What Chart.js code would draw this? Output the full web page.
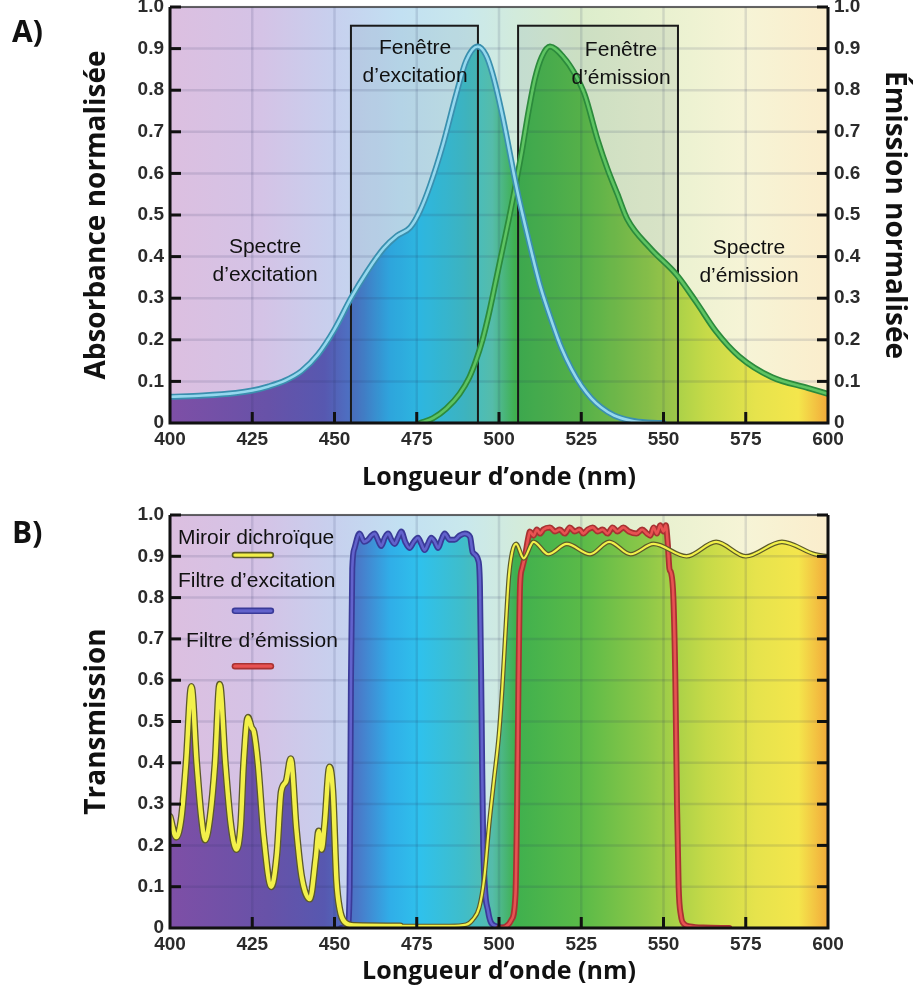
<!DOCTYPE html>
<html lang="fr">
<head>
<meta charset="utf-8">
<title>Spectres et filtres de fluorescence</title>
<script src="https://cdn.jsdelivr.net/npm/chart.js@4.4.1/dist/chart.umd.min.js"></script>
<style>
  html, body { margin: 0; padding: 0; background: #fff; }
  body { width: 917px; height: 991px; position: relative; overflow: hidden; }
  canvas { position: absolute; left: 0; }
  .tag { position: absolute; left: 12px; font: 700 30px/1 'Open Sans', sans-serif; color: #111; }
</style>
</head>
<body>
<canvas id="chartA" style="top:0" width="917" height="500"></canvas>
<canvas id="chartB" style="top:500px" width="917" height="491"></canvas>
<div class="tag" style="top:16px">A)</div>
<div class="tag" style="top:517px">B)</div>
<script>
// ── A) spectres (lus sur la figure)
const excWl  = [400, 410, 420, 425, 430, 435, 440, 445, 450, 455, 460, 465, 469, 473, 476, 479, 483, 487, 490, 493.5, 496, 498, 501, 505.5, 509, 512.5, 516, 519, 522, 525, 528, 531, 535, 540, 545, 550];
const excAbs = [0.063, 0.066, 0.072, 0.078, 0.088, 0.102, 0.125, 0.165, 0.225, 0.30, 0.365, 0.42, 0.45, 0.47, 0.51, 0.57, 0.67, 0.79, 0.87, 0.905, 0.885, 0.84, 0.74, 0.56, 0.44, 0.33, 0.245, 0.18, 0.13, 0.09, 0.06, 0.038, 0.018, 0.006, 0.001, 0];
const emWl   = [476, 480, 484, 488, 491, 493, 495, 497, 499, 501, 503, 505, 507, 509, 511, 513, 515.5, 519.5, 523, 526, 530, 533, 536, 539, 546, 554, 560, 566, 573, 583, 594, 600];
const emVal  = [0, 0.012, 0.035, 0.07, 0.11, 0.15, 0.20, 0.265, 0.34, 0.415, 0.49, 0.57, 0.655, 0.75, 0.83, 0.88, 0.905, 0.88, 0.84, 0.79, 0.68, 0.61, 0.55, 0.49, 0.42, 0.356, 0.29, 0.22, 0.16, 0.11, 0.084, 0.07];
const fenExc = [455, 493.6];
const fenEm  = [505.8, 554.4];
const hautFenetre = 0.955;

// ── B) transmission des filtres
const dichWl = [400, 401.9, 403.5, 404.9, 406.5, 408.1, 409.5, 410.7, 412.2, 413.7, 415.1, 416.8, 418.5, 420.2, 421.5, 422.4, 423.7, 424.8, 425.5, 426.7, 428.5, 430.8, 432.5, 433.8, 435.3, 436.7, 438.4, 440, 442.5, 444.3, 445.2, 446.1, 447, 448.5, 449.5, 450.6, 451.6, 453, 456, 470, 485, 490, 492, 494, 495.5, 497, 498.5, 500, 501, 502, 503, 504, 505.2, 507.5, 510.5, 515, 520.6, 527.7, 533.5, 540, 547, 557, 566, 575, 586, 596, 600];
const dichT  = [0.27, 0.22, 0.27, 0.40, 0.585, 0.40, 0.27, 0.213, 0.27, 0.40, 0.59, 0.40, 0.25, 0.19, 0.25, 0.40, 0.51, 0.485, 0.475, 0.40, 0.22, 0.10, 0.18, 0.33, 0.355, 0.41, 0.24, 0.125, 0.07, 0.17, 0.235, 0.19, 0.25, 0.39, 0.33, 0.115, 0.045, 0.015, 0.006, 0.005, 0.005, 0.008, 0.02, 0.05, 0.12, 0.25, 0.36, 0.47, 0.58, 0.72, 0.85, 0.91, 0.93, 0.895, 0.935, 0.905, 0.93, 0.905, 0.935, 0.905, 0.93, 0.90, 0.935, 0.90, 0.935, 0.905, 0.90];
const exfWl  = [452, 454, 454.6, 455, 455.4, 456.1, 457.6, 459, 460.2, 461.2, 462.2, 463.2, 464.2, 465.3, 466.3, 467.3, 468.3, 469.3, 470.3, 471.5, 472.8, 474.1, 475.4, 476.4, 477.4, 478.4, 479.4, 480.5, 481.5, 482.5, 483.5, 485, 486.5, 488, 489.6, 491.2, 492, 493.7, 494.2, 494.7, 495.2, 496.7, 498.8, 502];
const exfT   = [0, 0.005, 0.1, 0.6, 0.87, 0.92, 0.955, 0.935, 0.94, 0.95, 0.955, 0.94, 0.925, 0.945, 0.955, 0.94, 0.93, 0.945, 0.96, 0.935, 0.92, 0.935, 0.945, 0.93, 0.915, 0.93, 0.945, 0.935, 0.92, 0.94, 0.955, 0.94, 0.94, 0.95, 0.955, 0.947, 0.91, 0.89, 0.83, 0.52, 0.2, 0.04, 0.005, 0];
const emfWl  = [500, 502, 503.8, 505, 505.5, 505.9, 506.4, 507, 507.9, 508.9, 509.4, 510.5, 511.5, 512.5, 513.5, 515.5, 517, 518.5, 520, 521.5, 523, 524.5, 525.6, 527, 528.5, 530, 531.5, 533, 534.5, 536, 537.8, 539.5, 541.8, 543.5, 545, 546, 547, 548, 549, 550, 550.7, 551.3, 551.8, 552.3, 553, 553.6, 554.1, 554.6, 555.3, 556.2, 558, 562, 570];
const emfT   = [0, 0.003, 0.02, 0.08, 0.3, 0.58, 0.83, 0.87, 0.9, 0.945, 0.96, 0.95, 0.965, 0.955, 0.965, 0.97, 0.96, 0.965, 0.955, 0.97, 0.96, 0.965, 0.955, 0.965, 0.97, 0.96, 0.965, 0.955, 0.97, 0.96, 0.97, 0.96, 0.955, 0.965, 0.955, 0.95, 0.97, 0.955, 0.975, 0.96, 0.975, 0.93, 0.87, 0.86, 0.8, 0.6, 0.3, 0.1, 0.03, 0.01, 0.004, 0.001, 0];

// ── graduations
const gradNm  = [400, 425, 450, 475, 500, 525, 550, 575, 600];
const gradVal = [0, 0.1, 0.2, 0.3, 0.4, 0.5, 0.6, 0.7, 0.8, 0.9, 1.0];

// couleurs du spectre (fond pâle et aires pleines)
const SPECTRE_VIF = [[400, '#7e4fa6'], [430, '#6752a8'], [447, '#5758b0'], [457, '#4a78c8'], [467, '#30aee8'], [476, '#2fc1ec'], [489, '#3fbdca'], [498, '#55bcaa'], [505, '#3fb04e'], [525, '#5aba48'], [545, '#8ec848'], [563, '#c6da48'], [578, '#e6e34c'], [591, '#f4e64c'], [600, '#f2a93a']];
const SPECTRE_PALE = [[400, '#dcbfe0'], [428, '#d4c3e6'], [450, '#c7d0ee'], [470, '#c2e0f2'], [490, '#c9e8ec'], [505, '#d2ebdc'], [525, '#dcedcc'], [550, '#e9f1d0'], [575, '#f6f4d6'], [600, '#fbedcc']];

function spectre(chart, stops) {
  const { ctx, chartArea: a, scales } = chart;
  const g = ctx.createLinearGradient(a.left, 0, a.right, 0);
  stops.forEach(([nm, c]) => g.addColorStop((scales.x.getPixelForValue(nm) - a.left) / (a.right - a.left), c));
  return g;
}
const remplissage = c => c.chart.chartArea ? spectre(c.chart, SPECTRE_VIF) : 'transparent';

const pts = (xs, ys) => xs.map((x, i) => ({ x, y: ys[i] }));

// une courbe = contour foncé (avec l'aire) + cœur clair
function courbe(xs, ys, axe, contour, coeur, ordre, largeurs) {
  const w = largeurs || [6, 2.6];
  return [
    { data: pts(xs, ys), yAxisID: axe, borderColor: coeur, borderWidth: w[1], fill: false, order: ordre,
      segment: largeurs && largeurs[2] ? { borderWidth: largeurs[2][1] } : undefined },
    { data: pts(xs, ys), yAxisID: axe, borderColor: contour, borderWidth: w[0], fill: 'origin', backgroundColor: remplissage, order: ordre + 1,
      segment: largeurs && largeurs[2] ? { borderWidth: largeurs[2][0] } : undefined },
  ];
}

// ── fond, grille, cadre, graduations intérieures et textes
const cadre = {
  id: 'cadre',
  beforeDraw(chart) {
    const { ctx, chartArea: a } = chart;
    ctx.save();
    ctx.fillStyle = spectre(chart, SPECTRE_PALE);
    ctx.fillRect(a.left, a.top, a.right - a.left, a.bottom - a.top);
    ctx.restore();
  },
  beforeDatasetsDraw(chart, args, o) {
    const { ctx, chartArea: a, scales: { x, y } } = chart;
    ctx.save();
    ctx.strokeStyle = 'rgba(40,50,90,0.13)';
    ctx.lineWidth = 2.5;
    x.ticks.forEach(t => {
      const px = x.getPixelForValue(t.value);
      ctx.beginPath(); ctx.moveTo(px, a.top); ctx.lineTo(px, a.bottom); ctx.stroke();
    });
    y.ticks.forEach(t => {
      const py = y.getPixelForValue(t.value);
      ctx.beginPath(); ctx.moveTo(a.left, py); ctx.lineTo(a.right, py); ctx.stroke();
    });
    (o.fenetres || []).forEach(([g, d]) => {
      const x0 = x.getPixelForValue(g), x1 = x.getPixelForValue(d);
      const y0 = y.getPixelForValue(hautFenetre), y1 = y.getPixelForValue(0);
      ctx.fillStyle = 'rgba(20,60,90,0.08)';
      ctx.fillRect(x0, y0, x1 - x0, y1 - y0);
      ctx.strokeStyle = '#1a1a1a';
      ctx.lineWidth = 2;
      ctx.strokeRect(x0, y0, x1 - x0, y1 - y0);
    });
    ctx.restore();
  },
  afterDatasetsDraw(chart, args, o) {
    const { ctx, chartArea: a, scales: { x, y } } = chart;
    ctx.save();
    // cadre
    ctx.strokeStyle = '#3a3a3a'; ctx.lineWidth = 1.5;
    ctx.beginPath(); ctx.moveTo(a.left, a.top); ctx.lineTo(a.right, a.top); ctx.stroke();
    ctx.strokeStyle = '#111'; ctx.lineWidth = 3;
    ctx.beginPath();
    ctx.moveTo(a.left, a.top); ctx.lineTo(a.left, a.bottom); ctx.lineTo(a.right, a.bottom); ctx.lineTo(a.right, a.top);
    ctx.stroke();
    // graduations vers l'intérieur
    ctx.lineWidth = 3;
    x.ticks.forEach(t => {
      if (t.value === 400 || t.value === 600) return;
      const px = x.getPixelForValue(t.value);
      ctx.beginPath(); ctx.moveTo(px, a.bottom); ctx.lineTo(px, a.bottom - 11); ctx.stroke();
    });
    y.ticks.forEach(t => {
      if (t.value === 0) return;
      const py = y.getPixelForValue(t.value);
      ctx.beginPath(); ctx.moveTo(a.left, py); ctx.lineTo(a.left + 11, py); ctx.stroke();
      ctx.beginPath(); ctx.moveTo(a.right, py); ctx.lineTo(a.right - 11, py); ctx.stroke();
    });
    // textes dans le graphique
    ctx.fillStyle = '#111';
    ctx.textBaseline = 'middle';
    ctx.font = "21px 'Liberation Sans', Arial, sans-serif";
    (o.textes || []).forEach(t => {
      const px = x.getPixelForValue(t.nm), py = y.getPixelForValue(t.val);
      ctx.textAlign = t.align || 'center';
      t.lignes.forEach((l, i) => ctx.fillText(l, px, py + i * 28));
    });
    // légende : texte puis petit trait
    (o.legende || []).forEach(l => {
      ctx.textAlign = 'left';
      ctx.fillText(l.texte, x.getPixelForValue(l.nm), y.getPixelForValue(l.val));
      const cx = x.getPixelForValue(l.trait[0]), cy = y.getPixelForValue(l.trait[1]);
      ctx.lineCap = 'round';
      ctx.strokeStyle = l.couleurs[0]; ctx.lineWidth = 6.5;
      ctx.beginPath(); ctx.moveTo(cx - 18, cy); ctx.lineTo(cx + 18, cy); ctx.stroke();
      ctx.strokeStyle = l.couleurs[1]; ctx.lineWidth = 3.2;
      ctx.beginPath(); ctx.moveTo(cx - 18, cy); ctx.lineTo(cx + 18, cy); ctx.stroke();
    });
    ctx.restore();
  }
};

Chart.defaults.font.family = "'Liberation Sans', Arial, sans-serif";
const TITRE = "'Open Sans', sans-serif";
const fmtVal = v => v === 0 ? '0' : v.toFixed(1);

function axeX(hauteur, padTitre) {
  return {
    type: 'linear', min: 400, max: 600,
    afterBuildTicks: s => { s.ticks = gradNm.map(v => ({ value: v })); },
    afterFit: s => { s.height = hauteur; s.paddingLeft = 0; s.paddingRight = 0; },
    grid: { display: false, drawTicks: false }, border: { display: false },
    ticks: { color: '#2b2b2b', font: { size: 19, weight: 'bold' }, padding: 5, maxRotation: 0, autoSkip: false },
    title: { display: true, text: 'Longueur d’onde (nm)', color: '#111', font: { family: TITRE, size: 25, weight: 'bold' }, padding: { top: 0, bottom: padTitre } }
  };
}
function axeY(position, largeur, titre, padTitre, labels) {
  return {
    type: 'linear', position, min: 0, max: 1,
    afterBuildTicks: s => { s.ticks = gradVal.map(v => ({ value: v })); },
    afterFit: s => { s.width = largeur; s.paddingTop = 0; s.paddingBottom = 0; },
    grid: { display: false, drawTicks: false }, border: { display: false },
    ticks: { display: labels, color: '#2b2b2b', font: { size: 19, weight: 'bold' }, padding: 6, callback: fmtVal, autoSkip: false },
    title: { display: !!titre, text: titre, color: '#111', font: { family: TITRE, size: 28, weight: 'bold' }, padding: { top: padTitre, bottom: 0 } }
  };
}

const communes = {
  responsive: false, animation: false,
  elements: { point: { radius: 0 }, line: { cubicInterpolationMode: 'monotone', borderJoinStyle: 'round', borderCapStyle: 'round' } },
};

// ── A)
new Chart(document.getElementById('chartA'), {
  type: 'line',
  data: {
    datasets: [
      ...courbe(excWl, excAbs, 'y', '#3a8fae', '#95d8ee', 0),
      ...courbe(emWl, emVal, 'y2', '#2c8a3c', '#5ec462', 2),
    ]
  },
  options: {
    ...communes,
    layout: { autoPadding: false, padding: { top: 7, left: 0, right: 0, bottom: 0 } },
    scales: {
      x: axeX(77, 7),
      y: axeY('left', 170, 'Absorbance normalisée', 80, true),
      y2: axeY('right', 89, 'Émission normalisée', 6, true),
    },
    plugins: {
      legend: { display: false }, tooltip: { enabled: false },
      filler: { drawTime: 'beforeDatasetsDraw' },
      cadre: {
        fenetres: [fenExc, fenEm],
        textes: [
          { lignes: ['Fenêtre', 'd’excitation'], nm: 474.5, val: 0.90 },
          { lignes: ['Fenêtre', 'd’émission'], nm: 537.1, val: 0.897 },
          { lignes: ['Spectre', 'd’excitation'], nm: 428.9, val: 0.423 },
          { lignes: ['Spectre', 'd’émission'], nm: 576, val: 0.421 },
        ]
      }
    }
  },
  plugins: [cadre]
});

// ── B)
const jaune = ['#5c5a2a', '#f2f04a'], bleu = ['#3a3a98', '#6262cc'], rouge = ['#a83232', '#e85252'];
new Chart(document.getElementById('chartB'), {
  type: 'line',
  data: {
    datasets: [
      ...courbe(dichWl, dichT, 'y', jaune[0], jaune[1], 0, [7, 4.4, [c => c.p0.parsed.x < 470 ? 7 : 4.6, c => c.p0.parsed.x < 470 ? 4.4 : 2.2]]),
      ...courbe(emfWl, emfT, 'y', rouge[0], rouge[1], 2),
      ...courbe(exfWl, exfT, 'y', bleu[0], bleu[1], 4),
    ]
  },
  options: {
    ...communes,
    layout: { autoPadding: false, padding: { top: 15, left: 0, right: 89, bottom: 0 } },
    scales: {
      x: axeX(63, 4),
      y: axeY('left', 170, 'Transmission', 80, true),
    },
    plugins: {
      legend: { display: false }, tooltip: { enabled: false },
      filler: { drawTime: 'beforeDatasetsDraw' },
      cadre: {
        legende: [
          { texte: 'Miroir dichroïque', nm: 402.4, val: 0.944, trait: [425.2, 0.903], couleurs: jaune },
          { texte: 'Filtre d’excitation', nm: 402.4, val: 0.840, trait: [425.2, 0.768], couleurs: bleu },
          { texte: 'Filtre d’émission', nm: 404.9, val: 0.695, trait: [425.2, 0.634], couleurs: rouge },
        ]
      }
    }
  },
  plugins: [cadre]
});
</script>
</body>
</html>
